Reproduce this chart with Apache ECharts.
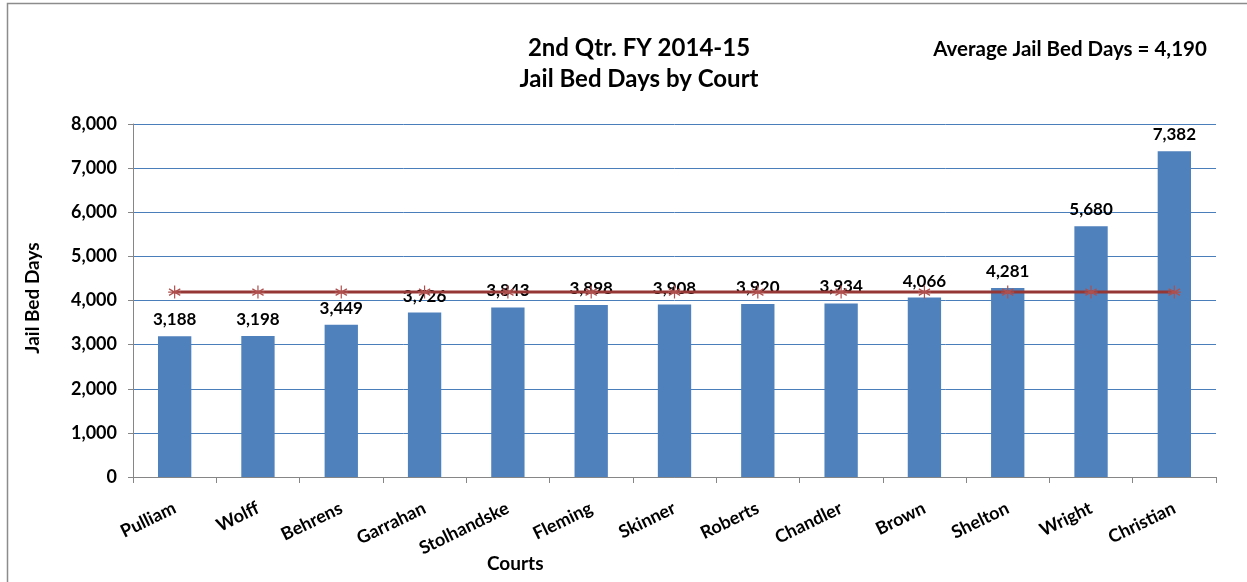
<!DOCTYPE html>
<html>
<head>
<meta charset="utf-8">
<script src="https://cdn.jsdelivr.net/npm/echarts@6/dist/echarts.min.js"></script>
<style>
html,body{margin:0;padding:0;background:#fff;}
#chart{width:1247px;height:582px;}
</style>
</head>
<body>
<div id="chart"></div>
<script>
const courts = ['Pulliam','Wolff','Behrens','Garrahan','Stolhandske','Fleming','Skinner','Roberts','Chandler','Brown','Shelton','Wright','Christian'];
const bedDays = [3188,3198,3449,3726,3843,3898,3908,3920,3934,4066,4281,5680,7382];
const averageValue = 4190;
const averageLine = courts.map(() => averageValue);
const titleLines = ['2nd Qtr. FY 2014-15','Jail Bed Days by Court'];
const averageText = 'Average Jail Bed Days = 4,190';
const yAxisTitle = 'Jail Bed Days';
const xAxisTitle = 'Courts';

const FONT = 'Lato, "Open Sans", sans-serif';
const fmt = v => v.toLocaleString('en-US');

const chart = echarts.init(document.getElementById('chart'));
chart.setOption({
  animation: false,
  backgroundColor: '#fff',
  textStyle: { fontFamily: FONT },
  title: [
    { text: titleLines[0], left: 634, top: 31, textAlign: 'center',
      textStyle: { fontFamily: FONT, fontSize: 24, fontWeight: 'bold', color: '#000' } },
    { text: titleLines[1], left: 634, top: 62, textAlign: 'center',
      textStyle: { fontFamily: FONT, fontSize: 24, fontWeight: 'bold', color: '#000' } },
    { text: averageText, left: 1065, top: 34, textAlign: 'center',
      textStyle: { fontFamily: FONT, fontSize: 20.5, fontWeight: 'bold', color: '#000' } }
  ],
  graphic: [
    { type: 'rect', shape: { x: 7.5, y: 3.5, width: 1300, height: 650 },
      style: { fill: 'none', stroke: '#8c8c8c', lineWidth: 1.5 }, silent: true },
    { type: 'text', left: 487, top: 554,
      style: { text: xAxisTitle, font: 'bold 19px ' + FONT, fill: '#000' } },
    { type: 'text', x: 33, y: 298, rotation: Math.PI / 2,
      style: { text: yAxisTitle, font: 'bold 19px ' + FONT, fill: '#000', align: 'center', verticalAlign: 'middle' } }
  ],
  grid: { left: 133, right: 31, top: 124, bottom: 105, containLabel: false },
  xAxis: {
    type: 'category',
    data: courts,
    axisLine: { lineStyle: { color: '#868686', width: 1 } },
    axisTick: { show: true, length: 6, lineStyle: { color: '#868686' } },
    axisLabel: { rotate: 26, fontSize: 18, fontWeight: 'bold', color: '#000', fontFamily: FONT, margin: 30, interval: 0 }
  },
  yAxis: {
    type: 'value',
    min: 0, max: 8000, interval: 1000,
    axisLine: { show: true, lineStyle: { color: '#868686', width: 1 } },
    axisTick: { show: true, length: 5, lineStyle: { color: '#868686' } },
    axisLabel: { formatter: fmt, fontSize: 18, fontWeight: 'bold', color: '#000', fontFamily: FONT, margin: 16 },
    splitLine: { lineStyle: { color: '#4a7ebb', width: 1 } }
  },
  series: [
    {
      type: 'bar',
      data: bedDays,
      barWidth: '40%',
      itemStyle: { color: '#4f81bd' },
      label: { show: true, position: 'top', distance: 8, formatter: p => fmt(p.value),
        fontSize: 17, fontWeight: 'bold', color: '#000', fontFamily: FONT },
      z: 2
    },
    {
      type: 'line',
      data: averageLine,
      lineStyle: { color: '#953735', width: 3 },
      symbol: 'path://M10 0 L10 20 M1.34 5 L18.66 15 M1.34 15 L18.66 5 M0 10 L20 10',
      symbolSize: 13,
      itemStyle: { color: 'none', borderColor: '#b0504e', borderWidth: 1.2 },
      z: 3
    }
  ]
});
</script>
</body>
</html>
